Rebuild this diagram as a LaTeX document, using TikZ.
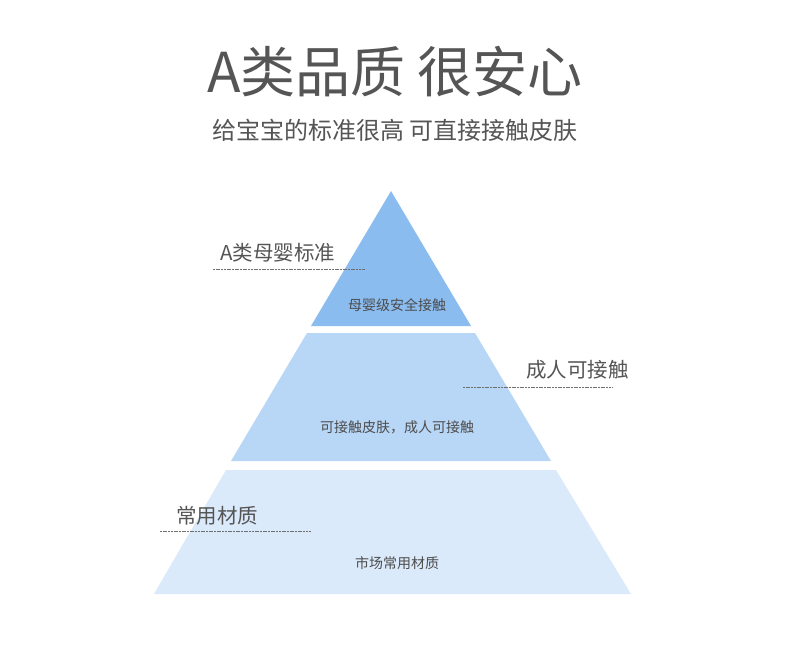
\documentclass[tikz,border=0pt]{standalone}
\usepackage{fontspec}
\setmainfont{Noto Sans CJK SC}
\usetikzlibrary{positioning}
\definecolor{inkgray}{RGB}{85,85,85}
\definecolor{toplayer}{RGB}{139,188,240}
\definecolor{midlayer}{RGB}{184,214,245}
\definecolor{baselayer}{RGB}{219,234,250}
\begin{document}
\begin{tikzpicture}[x=1pt,y=-1pt,
  heading/.style={text=inkgray,inner sep=0pt,font=\fontsize{55}{60}\selectfont},
  subheading/.style={text=inkgray,inner sep=0pt,font=\fontsize{24}{28}\selectfont},
  sidelabel/.style={text=inkgray,inner sep=0pt,font=\fontsize{20.5}{24}\selectfont},
  layerlabel/.style={text=inkgray!90!black,inner sep=0pt,font=\fontsize{14}{17}\selectfont},
  leader/.style={draw=inkgray!85,line width=0.5pt,dash pattern=on 2pt off 0.7pt}]
\useasboundingbox[fill=white] (0,0) rectangle (790,646);
% title
\node[heading] (title) at (395,72) {A类品质 很安心};
\node[subheading] (subtitle) at (395,130) {给宝宝的标准很高 可直接接触皮肤};
% pyramid layers
\fill[toplayer] (391,191) -- (471,326) -- (311,326) -- cycle;
\fill[midlayer] (307,333) -- (475,333) -- (551,461) -- (231,461) -- cycle;
\fill[baselayer] (226,470) -- (556,470) -- (631,594) -- (154,594) -- cycle;
\node[layerlabel] (toptext) at (397,305) {母婴级安全接触};
\node[layerlabel] (midtext) at (397,427) {可接触皮肤，成人可接触};
\node[layerlabel] (basetext) at (397,563) {市场常用材质};
% side labels
\node[sidelabel,anchor=west] (toplbl) at (220,253) {A类母婴标准};
\node[sidelabel,anchor=east] (midlbl) at (629,370) {成人可接触};
\node[sidelabel,anchor=west] (baselbl) at (176,516) {常用材质};
\coordinate (topa) at (213,269);
\coordinate (topb) at (365,269);
\coordinate (mida) at (463,387);
\coordinate (midb) at (613,387);
\coordinate (basea) at (160,531);
\coordinate (baseb) at (311,531);
\draw[leader] (topa) -- (topb);
\draw[leader] (mida) -- (midb);
\draw[leader] (basea) -- (baseb);
\end{tikzpicture}
\end{document}
